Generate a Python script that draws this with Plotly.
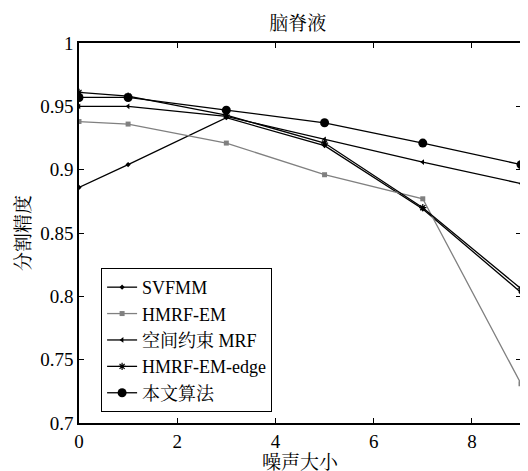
import plotly.graph_objects as go

noise = [0, 1, 3, 5, 7, 9]
svfmm = [0.886, 0.904, 0.941, 0.919, 0.869, 0.803]
hmrf_em = [0.938, 0.936, 0.921, 0.896, 0.877, 0.731]
kongjian = [0.950, 0.950, 0.942, 0.924, 0.906, 0.889]
hmrf_edge = [0.961, 0.958, 0.943, 0.921, 0.870, 0.806]
ours = [0.957, 0.957, 0.947, 0.937, 0.921, 0.904]

names = ["SVFMM", "HMRF-EM", "空间约束 MRF", "HMRF-EM-edge", "本文算法"]
ytick_vals = [0.7, 0.75, 0.8, 0.85, 0.9, 0.95, 1.0]
ytick_text = ["0.7", "0.75", "0.8", "0.85", "0.9", "0.95", "1"]
xtick_vals = [0, 2, 4, 6, 8]

FONT = "Liberation Serif, Times New Roman, Noto Serif CJK SC, Noto Sans CJK SC, serif"
FS = 19

styles = [
    dict(color="black", symbol="diamond", size=4),
    dict(color="#808080", symbol="square", size=5),
    dict(color="black", symbol="triangle-left", size=5),
    dict(color="black", symbol="asterisk", size=6),
    dict(color="black", symbol="circle", size=9),
]

fig = go.Figure()
for name, ys, st in zip(names, [svfmm, hmrf_em, kongjian, hmrf_edge, ours], styles):
    mk = dict(color=st["color"], symbol=st["symbol"], size=st["size"])
    if st["symbol"] == "asterisk":
        mk["line"] = dict(color=st["color"], width=1.2)
    fig.add_trace(go.Scatter(
        x=noise, y=ys, name=name, mode="lines+markers",
        line=dict(color=st["color"], width=1.3),
        marker=mk,
    ))

fig.update_layout(
    width=528, height=471,
    margin=dict(l=71, r=15, t=35, b=56),
    paper_bgcolor="white", plot_bgcolor="white",
    font=dict(family=FONT, size=FS, color="black"),
    title=dict(text="脑脊液", x=0.549, xanchor="center", y=0.968, yanchor="middle",
               font=dict(family=FONT, size=FS, color="black")),
    showlegend=True,
    legend=dict(x=0.05, y=0.408, xanchor="left", yanchor="top",
                bordercolor="black", borderwidth=1, bgcolor="white",
                font=dict(family=FONT, size=18, color="black"),
                tracegroupgap=0, itemwidth=30),
    xaxis=dict(range=[0, 9], tickvals=xtick_vals, ticks="inside", ticklen=5,
               tickcolor="black", showline=True, linecolor="black", linewidth=1.5,
               mirror="ticks", showgrid=False, zeroline=False,
               title=dict(text="噪声大小", standoff=1,
                          font=dict(family=FONT, size=FS, color="black")),
               tickfont=dict(family=FONT, size=FS, color="black")),
    yaxis=dict(range=[0.7, 1.0], tickvals=ytick_vals, ticktext=ytick_text,
               ticks="inside", ticklen=5, tickcolor="black", showline=True,
               linecolor="black", linewidth=1.5, mirror="ticks", showgrid=False,
               zeroline=False,
               title=dict(text="分割精度", standoff=5,
                          font=dict(family=FONT, size=FS, color="black")),
               tickfont=dict(family=FONT, size=FS, color="black")),
)

fig.write_html("out.html")
